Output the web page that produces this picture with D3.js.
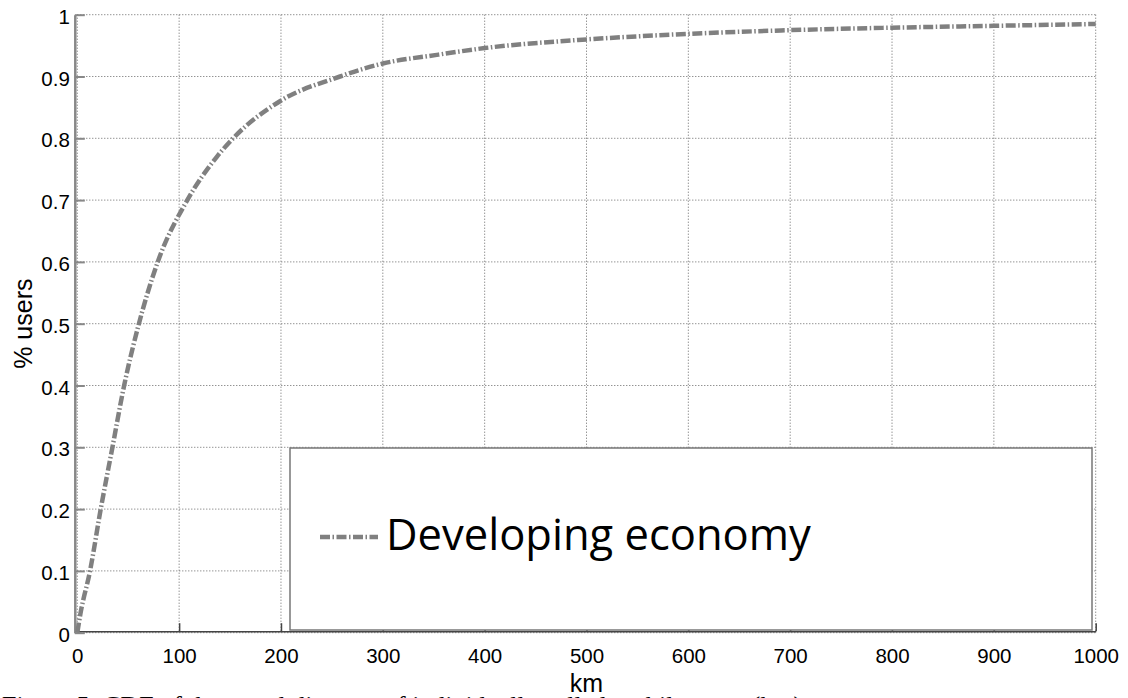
<!DOCTYPE html>
<html>
<head>
<meta charset="utf-8">
<script src="https://cdn.jsdelivr.net/npm/d3@7"></script>
<style>
  body { margin: 0; background: #fff; }
  svg { display: block; }
  .tick text { font-family: "Liberation Sans", Arial, sans-serif; font-size: 20.5px; fill: #000; }
</style>
</head>
<body>
<svg width="1128" height="698"></svg>
<script>
// datos
const km = [0, 3, 12.5, 23, 34.5, 46, 60.5, 79, 108, 137, 153, 199, 258, 300, 353, 400, 500, 600, 700, 800, 900, 1000];
const users = [0, 0.03, 0.1, 0.2, 0.3, 0.4, 0.5, 0.6, 0.7, 0.77, 0.8, 0.86, 0.9, 0.921, 0.935, 0.946, 0.96, 0.969, 0.975, 0.979, 0.982, 0.985];
const xTicks = [0, 100, 200, 300, 400, 500, 600, 700, 800, 900, 1000];
const yTicks = [0, 0.1, 0.2, 0.3, 0.4, 0.5, 0.6, 0.7, 0.8, 0.9, 1];
const seriesName = "Developing economy";

const svg = d3.select("svg");
svg.append("rect").attr("width", 1128).attr("height", 698).attr("fill", "#fff");

// escalas
const x = d3.scaleLinear().domain([0, 1000]).range([77.3, 1095.7]);
const y = d3.scaleLinear().domain([0, 1]).range([632.7, 14.7]);

// grilla punteada
const grid = svg.append("g");
grid.selectAll(".gx").data(xTicks).enter().append("line")
  .attr("x1", d => x(d)).attr("x2", d => x(d))
  .attr("y1", y(1)).attr("y2", y(0))
  .attr("stroke", "#666").attr("stroke-width", 1)
  .attr("stroke-dasharray", "1,2");
grid.selectAll(".gy").data(yTicks).enter().append("line")
  .attr("x1", x(0)).attr("x2", x(1000))
  .attr("y1", d => y(d)).attr("y2", d => y(d))
  .attr("stroke", "#666").attr("stroke-width", 1)
  .attr("stroke-dasharray", "1,2");

// ejes
const ax = svg.append("g")
  .attr("transform", `translate(0,${y(0) - 1.5})`)
  .call(d3.axisBottom(x).tickValues(xTicks).tickSizeInner(-8).tickSizeOuter(0).tickPadding(17).tickFormat(d3.format("d")));
ax.select(".domain").attr("stroke", "#444").attr("stroke-width", 1.5);
ax.selectAll(".tick line").attr("stroke", "#444").attr("stroke-width", 1.5);

const ay = svg.append("g")
  .attr("transform", `translate(${x(0) - 2.5},0)`)
  .call(d3.axisLeft(y).tickValues(yTicks).tickSizeInner(-10).tickSizeOuter(0).tickPadding(5).tickFormat(d3.format("")));
ay.select(".domain").attr("stroke", "#888").attr("stroke-width", 2.5);
ay.selectAll(".tick line").attr("stroke", "#888").attr("stroke-width", 2);
ay.selectAll(".tick text").attr("dy", "0.42em");

// curva
const line = d3.line()
  .x((d, i) => x(km[i]))
  .y(d => y(d))
  .curve(d3.curveMonotoneX);

svg.append("path")
  .datum(users)
  .attr("d", line)
  .attr("fill", "none")
  .attr("stroke", "#808080")
  .attr("stroke-width", 4.5)
  .attr("stroke-dasharray", "10,2.5,1.5,2.5");

// leyenda
const leyenda = svg.append("g");
leyenda.append("rect")
  .attr("x", 290).attr("y", 448)
  .attr("width", 802).attr("height", 182)
  .attr("fill", "#fff")
  .attr("stroke", "#777")
  .attr("stroke-width", 1.5);
leyenda.append("line")
  .attr("x1", 320).attr("x2", 378)
  .attr("y1", 537).attr("y2", 537)
  .attr("stroke", "#808080").attr("stroke-width", 4.5)
  .attr("stroke-dasharray", "10,2.5,1.5,2.5");
leyenda.append("text")
  .attr("x", 386).attr("y", 550)
  .style("font-family", "'Open Sans', sans-serif")
  .style("font-size", "43.5px")
  .attr("fill", "#000")
  .text(seriesName);

// titulos de ejes
svg.append("text")
  .attr("x", (x(0) + x(1000)) / 2).attr("y", 692)
  .attr("text-anchor", "middle")
  .style("font-family", "'Liberation Sans', Arial, sans-serif")
  .style("font-size", "25px")
  .text("km");

svg.append("text")
  .attr("transform", `translate(32,${(y(0) + y(1)) / 2}) rotate(-90)`)
  .attr("text-anchor", "middle")
  .style("font-family", "'Liberation Sans', Arial, sans-serif")
  .style("font-size", "25px")
  .text("% users");

// pie de figura (cortado en el borde, como en el original)
svg.append("text")
  .attr("x", 2).attr("y", 714)
  .style("font-family", "'Liberation Serif', 'Times New Roman', serif")
  .style("font-size", "26px")
  .attr("fill", "#000")
  .text("Figure 5: CDF of the travel distance of individually called mobile users (km)");
</script>
</body>
</html>
